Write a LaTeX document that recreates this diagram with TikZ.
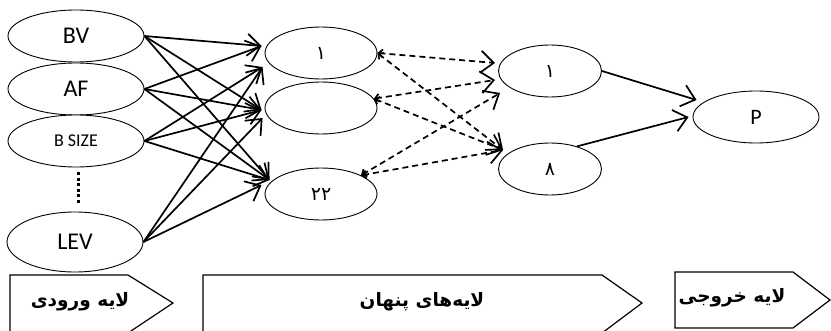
\documentclass[tikz,border=0pt]{standalone}
\usepackage{fontspec}
\setmainfont{Carlito}
\newfontfamily\fafont[Script=Arabic]{DejaVu Sans}
\TeXXeTstate=1
\usetikzlibrary{shapes.geometric,arrows.meta,calc}

\begin{document}
\begin{tikzpicture}[x=1pt,y=-1pt,
	neuron/.style={ellipse,draw,fill=white,line width=0.9pt,inner sep=0pt,minimum width=136pt,minimum height=52pt,font=\fontsize{24}{24}\selectfont},
	hid/.style={neuron,minimum width=112pt,font=\fafont\fontsize{19}{19}\selectfont},
	link/.style={line width=1.7pt,-{Straight Barb[length=13pt,width=22pt]}},
	dlink/.style={line width=1.7pt,dash pattern=on 6pt off 4pt,{Straight Barb[length=4pt,width=8pt]}-{Straight Barb[length=13pt,width=22pt]}},
	layer/.style={draw,line width=1.2pt},
	lbl/.style={font=\fafont\bfseries\fontsize{18.5}{18.5}\selectfont}]
		\useasboundingbox (0,0) rectangle (831,331);
		% input layer
		\node[neuron] (in1) at (76,36) {BV};
		\node[neuron] (in2) at (76,89) {AF};
		\node[neuron,font=\fontsize{18}{18}\selectfont] (in3) at (76,141) {B SIZE};
		\node[neuron,minimum height=60pt] (in4) at (75,242) {LEV};
		\draw[line width=3pt,dash pattern=on 3pt off 2.5pt] ($(in3.south)+(2,5)$) -- ($(in4.north)+(3,-7)$);
		% hidden layers
		\node[hid] (h1) at (321,53) {\beginR ۱\endR};
		\node[hid] (h2) at (321,108) {};
		\node[hid] (h3) at (321,194) {\beginR ۲۲\endR};
		\node[hid,minimum width=103pt] (o1) at (550,71) {\beginR ۱\endR};
		\node[hid,minimum width=103pt] (o2) at (550,169) {\beginR ۸\endR};
		% output
		\node[neuron,minimum width=126pt,font=\fontsize{22}{22}\selectfont] (out) at (756,117) {P};
		% arrow ends
		\coordinate (h1a) at ($(h1.west)+(-3,-7)$);
		\coordinate (h1b) at ($(h1.west)+(-2,14)$);
		\coordinate (h2a) at ($(h2.west)+(-3,2)$);
		\coordinate (h2b) at ($(h2.west)+(-2,10)$);
		\coordinate (h3a) at ($(h3.west)+(5,-14)$);
		\coordinate (h3b) at ($(h3.west)+(-3,-9)$);
		\coordinate (o1a) at ($(o1.west)+(-3,-8)$);
		\coordinate (o1b) at ($(o1.west)+(-3,9)$);
		\coordinate (o1c) at ($(o1.west)+(2,22)$);
		\coordinate (o2a) at ($(o2.west)+(5,-19)$);
		\coordinate (pa) at ($(out.west)+(4,-17)$);
		\coordinate (pb) at ($(out.west)+(-4,0)$);
		% input -> hidden
		\draw[link] (in1.east) -- (h1a);
		\draw[link] (in1.east) -- (h2a);
		\draw[link] (in1.east) -- (h3a);
		\draw[link] (in2.east) -- (h1a);
		\draw[link] (in2.east) -- (h2a);
		\draw[link] (in2.east) -- (h3a);
		\draw[link] (in3.east) -- (h1b);
		\draw[link] (in3.east) -- (h2a);
		\draw[link] (in3.east) -- (h3a);
		\draw[link] (in4.east) -- (h1b);
		\draw[link] (in4.east) -- (h2b);
		\draw[link] (in4.east) -- (h3b);
		% hidden -> hidden
		\draw[dlink] (h1.east) -- (o1a);
		\draw[dlink] (h1.east) -- (o2a);
		\draw[dlink] (h2.10) -- (o1b);
		\draw[dlink] (h2.10) -- (o2a);
		\draw[dlink] (h3.25) -- (o1c);
		\draw[dlink] (h3.25) -- (o2a);
		% hidden -> output
		\draw[link] (o1.east) -- (pa);
		\draw[link] (o2.40) -- (pb);
		% layer names
		\draw[layer] (10,275) -- (128,275) -- (173,303) -- (128,333) -- (10,333) -- cycle;
		\draw[layer] (203,275) -- (602,275) -- (642,303) -- (602,333) -- (203,333) -- cycle;
		\draw[layer] (675,272) -- (793,272) -- (830,300) -- (793,328) -- (675,328) -- cycle;
		\node[lbl] (t1) at (80,302) {\beginR لایه ورودی\endR};
		\node[lbl] (t2) at (422,302) {\beginR لایه‌های پنهان\endR};
		\node[lbl] (t3) at (732,298) {\beginR لایه خروجی\endR};
	\end{tikzpicture}
\end{document}
